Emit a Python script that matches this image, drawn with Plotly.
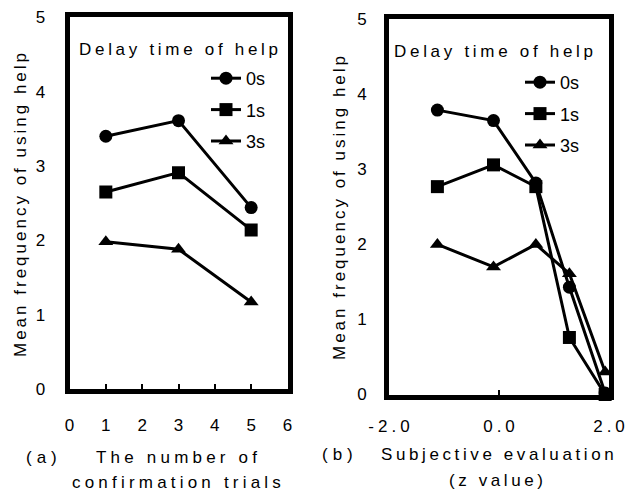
import plotly.graph_objects as go

# ---- data ----
series_names = ["0s", "1s", "3s"]
symbols = ["circle", "square", "triangle-up"]

# panel (a)
trials = [1, 3, 5]
a_0s = [3.40, 3.61, 2.44]
a_1s = [2.65, 2.91, 2.14]
a_3s = [1.98, 1.88, 1.17]

# panel (b)
zvals = [-1.12, -0.10, 0.67, 1.28, 1.93]
b_0s = [3.79, 3.65, 2.82, 1.43, 0.02]
b_1s = [2.77, 3.06, 2.77, 0.76, 0.0]
b_3s = [2.0, 1.70, 2.0, 1.61, 0.30]

b_xticks = [-2, 0, 2]
b_xticklabels = ["-2.0", "0.0", "2.0"]

legend_title = "Delay time of help"
ytitle = "Mean frequency of using help"
a_xtitle = ["The number of", "confirmation trials"]
b_xtitle = ["Subjective evaluation", "(z value)"]


def sp(t, px=3.5):
    return '<span style="letter-spacing:%spx">%s</span>' % (px, t)


def sp_inner(t, px):
    # spacing between characters only (no trailing gap)
    return sp(t[:-1], px) + t[-1]


FONT = "Liberation Sans, Arial, sans-serif"

fig = go.Figure()

for name, sym, ys in zip(series_names, symbols, [a_0s, a_1s, a_3s]):
    fig.add_trace(go.Scatter(
        x=trials, y=ys, name=name, mode="lines+markers",
        line=dict(color="black", width=3),
        marker=dict(symbol=sym, size=13, color="black"),
        xaxis="x", yaxis="y", legend="legend", legendgroup="a" + name,
    ))

for name, sym, ys in zip(series_names, symbols, [b_0s, b_1s, b_3s]):
    fig.add_trace(go.Scatter(
        x=zvals, y=ys, name=name, mode="lines+markers",
        line=dict(color="black", width=3),
        marker=dict(symbol=sym, size=13, color="black"),
        xaxis="x2", yaxis="y2", legend="legend2", legendgroup="b" + name,
        cliponaxis=False,
    ))

W, H = 627, 494
ax_common = dict(showline=True, linewidth=5, linecolor="black", mirror=True,
                 showgrid=False, zeroline=False,
                 tickcolor="black", tickwidth=1.5, automargin=False,
                 ticklabeloverflow="allow",
                 tickfont=dict(family=FONT, size=17, color="black"))

# plot-box line centres (pixels)
a_l, a_r, a_t, a_b = 69.5, 287.5, 17.3, 389
b_l, b_r, b_t, b_b = 389, 609, 19.3, 394.5

legend_common = dict(font=dict(family=FONT, size=18, color="black"),
                     bgcolor="rgba(0,0,0,0)", traceorder="grouped",
                     tracegroupgap=5, xanchor="left", yanchor="top",
                     itemwidth=30)

fig.update_layout(
    width=W, height=H,
    margin=dict(l=0, r=0, t=0, b=0, autoexpand=False),
    paper_bgcolor="white", plot_bgcolor="white",
    showlegend=True,
    xaxis=dict(ax_common, domain=[a_l / W, a_r / W], range=[0, 6], dtick=1,
               ticks="inside", ticklen=5, ticklabelstandoff=17, anchor="y"),
    yaxis=dict(ax_common, domain=[1 - a_b / H, 1 - a_t / H], range=[0, 5],
               dtick=1, ticks="", ticklabelstandoff=16, anchor="x"),
    xaxis2=dict(ax_common, domain=[b_l / W, b_r / W], range=[-2, 2],
                tickvals=b_xticks,
                ticktext=[sp_inner(t, 4) for t in b_xticklabels],
                ticks="inside", ticklen=5, ticklabelstandoff=12, anchor="y2"),
    yaxis2=dict(ax_common, domain=[1 - b_b / H, 1 - b_t / H], range=[0, 5],
                dtick=1, ticks="", ticklabelstandoff=14, anchor="x2"),
    legend=dict(legend_common, x=206 / W, y=1 - 60 / H),
    legend2=dict(legend_common, x=520 / W, y=1 - 64 / H),
)

txt = dict(family=FONT, size=17, color="black")
annos = [
    # legend titles
    dict(x=180 / W, y=1 - 50 / H, text=sp(legend_title, 3.7)),
    dict(x=495 / W, y=1 - 51 / H, text=sp(legend_title, 3.7)),
    # y titles
    dict(x=20 / W, y=1 - 204 / H, text=sp(ytitle, 3), textangle=-90),
    dict(x=339 / W, y=1 - 207 / H, text=sp(ytitle, 3), textangle=-90),
    # x titles
    dict(x=178 / W, y=1 - 457 / H, text=sp(a_xtitle[0], 4.2)),
    dict(x=178 / W, y=1 - 482 / H, text=sp(a_xtitle[1], 4.2)),
    dict(x=499 / W, y=1 - 454 / H, text=sp(b_xtitle[0], 3.6)),
    dict(x=498 / W, y=1 - 480 / H, text=sp(b_xtitle[1], 3.6)),
    # panel labels
    dict(x=44 / W, y=1 - 457 / H, text=sp("(a)", 5)),
    dict(x=340 / W, y=1 - 454 / H, text=sp("(b)", 5)),
]
for a in annos:
    fig.add_annotation(dict(xref="paper", yref="paper", showarrow=False,
                            xanchor="center", yanchor="middle", font=txt), **a)

fig.write_html(
    "out.html",
    config={"displayModeBar": False},
    post_script="document.body.style.margin='0px';"
                "document.body.style.overflow='hidden';",
)
